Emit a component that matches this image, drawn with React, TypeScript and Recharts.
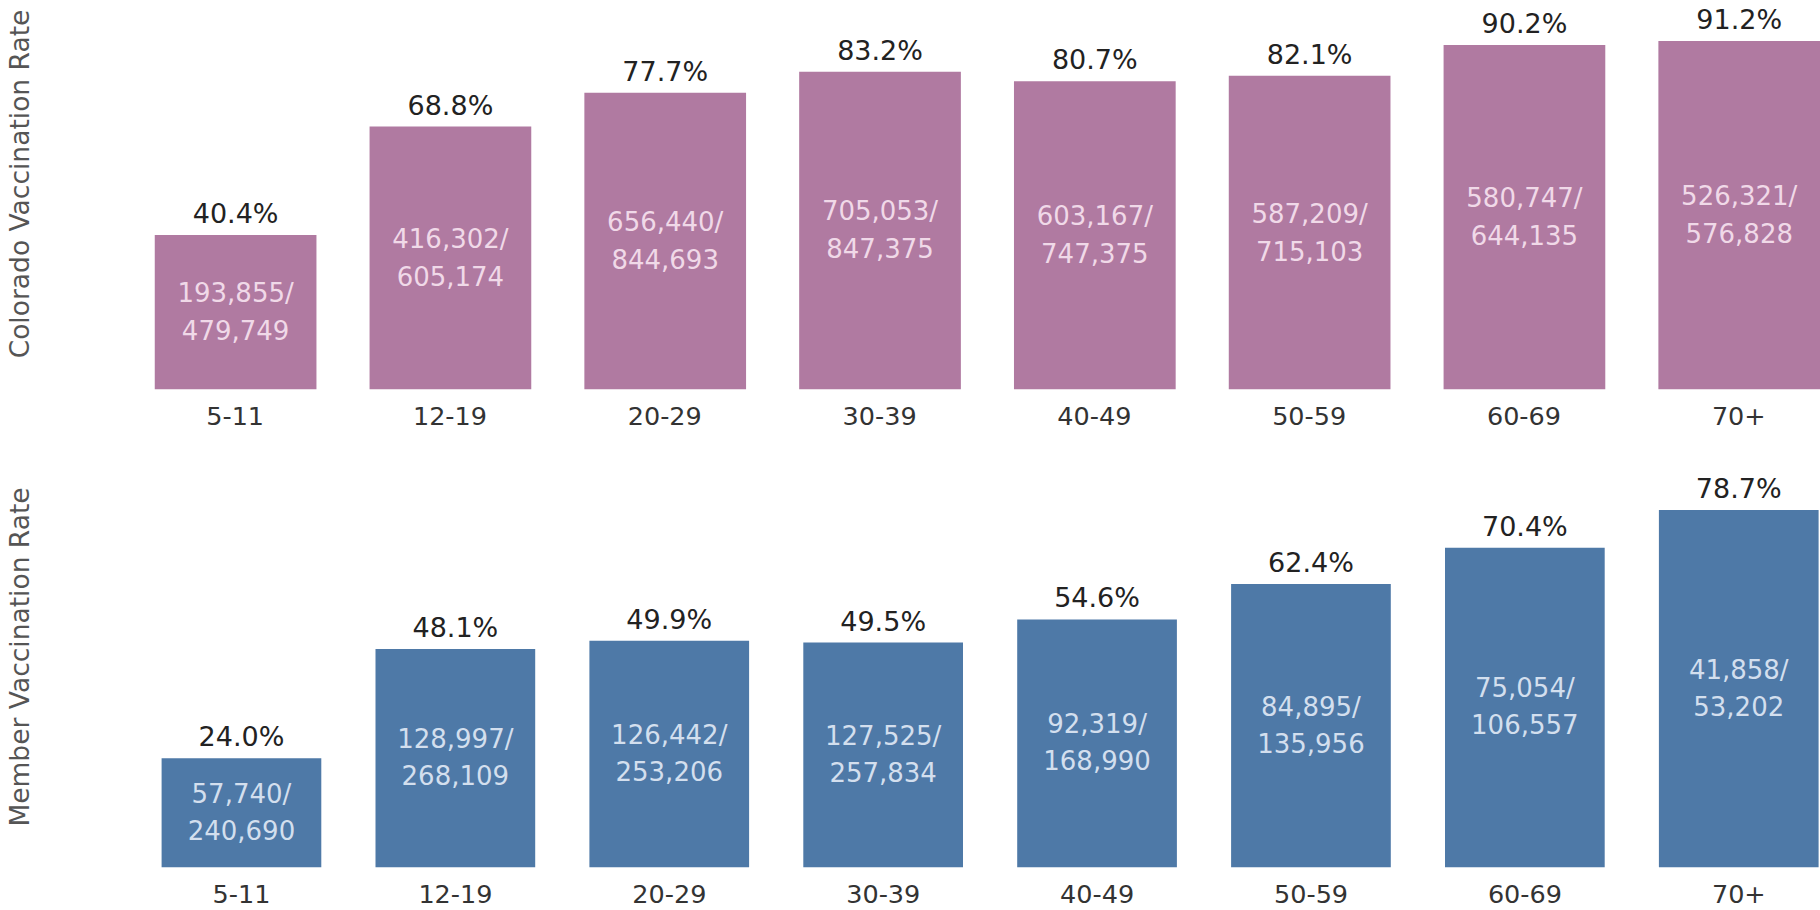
import React from "react";
import { Bar, BarChart, LabelList, XAxis, YAxis } from "recharts";

const ageGroups = ["5-11", "12-19", "20-29", "30-39", "40-49", "50-59", "60-69", "70+"];

const coloradoRate = [40.4, 68.8, 77.7, 83.2, 80.7, 82.1, 90.2, 91.2];
const coloradoVaccinated = [193855, 416302, 656440, 705053, 603167, 587209, 580747, 526321];
const coloradoPopulation = [479749, 605174, 844693, 847375, 747375, 715103, 644135, 576828];

const memberRate = [24.0, 48.1, 49.9, 49.5, 54.6, 62.4, 70.4, 78.7];
const memberVaccinated = [57740, 128997, 126442, 127525, 92319, 84895, 75054, 41858];
const memberPopulation = [240690, 268109, 253206, 257834, 168990, 135956, 106557, 53202];

const FONT = "'DejaVu Sans', sans-serif";

const fmt = (n: number) => n.toLocaleString("en-US");

const topData = ageGroups.map((age, i) => ({
  age,
  rate: coloradoRate[i],
  vaccinated: coloradoVaccinated[i],
  population: coloradoPopulation[i],
}));

const bottomData = ageGroups.map((age, i) => ({
  age,
  rate: memberRate[i],
  vaccinated: memberVaccinated[i],
  population: memberPopulation[i],
}));

function pctLabel(props: any) {
  const { x, y, width, value } = props;
  return (
    <text
      x={x + width / 2}
      y={y - 12}
      textAnchor="middle"
      fontFamily={FONT}
      fontSize={27}
      fill="#222"
    >
      {Number(value).toFixed(1)}%
    </text>
  );
}

function countLabel(rows: any[], color: string, gap: number) {
  return (props: any) => {
    const { x, y, width, height, index } = props;
    const row = rows[index];
    if (!row) return null;
    const mid = y + height / 2;
    return (
      <g fontFamily={FONT} fontSize={26} fill={color} textAnchor="middle">
        <text x={x + width / 2} y={mid - 10}>
          {fmt(row.vaccinated)}/
        </text>
        <text x={x + width / 2} y={mid - 10 + gap}>
          {fmt(row.population)}
        </text>
      </g>
    );
  };
}

const tickStyle = { fontFamily: FONT, fontSize: 25.5, fill: "#333" };

export default function App() {
  return (
    <div
      style={{
        position: "absolute",
        left: 0,
        top: 0,
        width: 1820,
        height: 910,
        overflow: "hidden",
        background: "#fff",
      }}
    >
      <div style={{ position: "absolute", left: 0, top: 0 }}>
        <BarChart
          width={1847}
          height={439.3}
          data={topData}
          margin={{ top: 7.5, right: 0.8, left: 127.75, bottom: 0 }}
        >
          <XAxis
            dataKey="age"
            height={50}
            axisLine={false}
            tickLine={false}
            tickSize={0}
            tickMargin={18}
            tick={tickStyle}
            interval={0}
          />
          <YAxis hide domain={[0, 100]} />
          <Bar dataKey="rate" fill="#b07aa1" barSize={161.7} isAnimationActive={false}>
            <LabelList dataKey="rate" content={pctLabel} />
            <LabelList dataKey="population" content={countLabel(topData, "#f0d9e8", 38)} />
          </Bar>
        </BarChart>
      </div>
      <div style={{ position: "absolute", left: 0, top: 400 }}>
        <BarChart
          width={1846}
          height={510}
          data={bottomData}
          margin={{ top: 13.3, right: 0.2, left: 134.6, bottom: 0 }}
        >
          <XAxis
            dataKey="age"
            height={42.7}
            axisLine={false}
            tickLine={false}
            tickSize={0}
            tickMargin={18}
            tick={tickStyle}
            interval={0}
          />
          <YAxis hide domain={[0, 100]} />
          <Bar dataKey="rate" fill="#4e79a7" barSize={159.7} isAnimationActive={false}>
            <LabelList dataKey="rate" content={pctLabel} />
            <LabelList dataKey="population" content={countLabel(bottomData, "#d3dfee", 37)} />
          </Bar>
        </BarChart>
      </div>
      <svg
        width={60}
        height={910}
        style={{ position: "absolute", left: 0, top: 0 }}
        fontFamily={FONT}
        fontSize={26.5}
        fill="#555"
      >
        <text transform="translate(29,184) rotate(-90)" textAnchor="middle">
          Colorado Vaccination Rate
        </text>
        <text transform="translate(29,657) rotate(-90)" textAnchor="middle">
          Member Vaccination Rate
        </text>
      </svg>
    </div>
  );
}
